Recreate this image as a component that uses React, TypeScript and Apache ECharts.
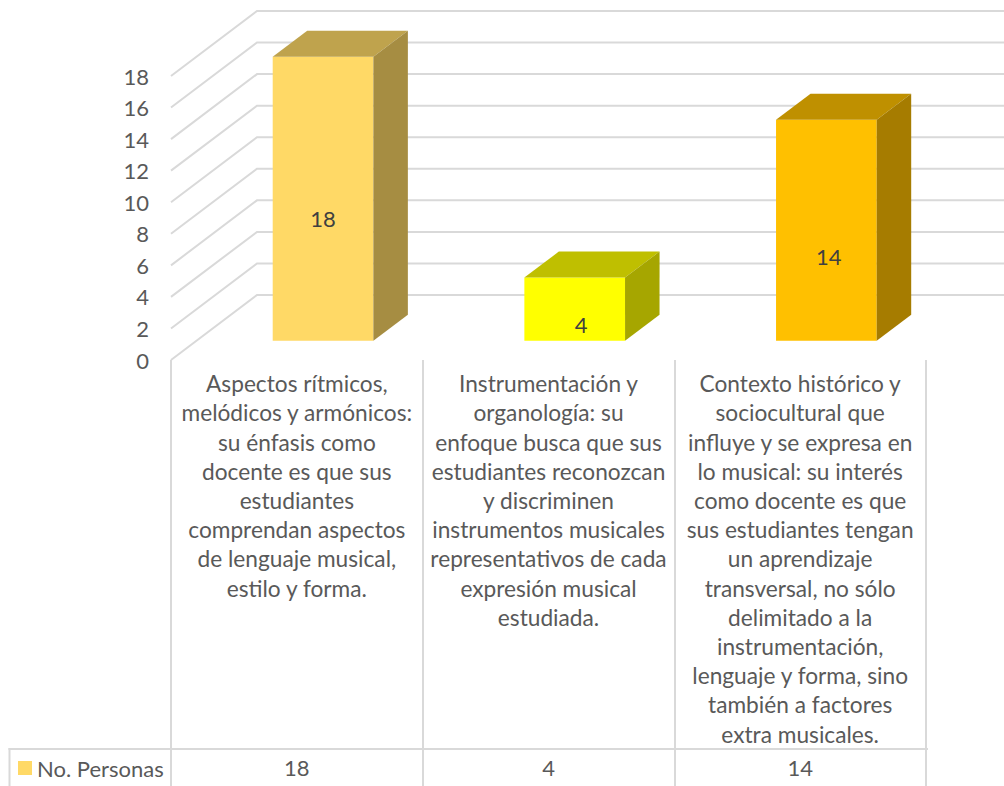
import React, { useEffect, useRef } from "react";
import * as echarts from "echarts";

const seriesName = "No. Personas";
const categories = [
  "Aspectos rítmicos,\nmelódicos y armónicos:\nsu énfasis como\ndocente es que sus\nestudiantes\ncomprendan aspectos\nde lenguaje musical,\nestilo y forma.",
  "Instrumentación y\norganología: su\nenfoque busca que sus\nestudiantes reconozcan\ny discriminen\ninstrumentos musicales\nrepresentativos de cada\nexpresión musical\nestudiada.",
  "Contexto histórico y\nsociocultural que\ninfluye y se expresa en\nlo musical: su interés\ncomo docente es que\nsus estudiantes tengan\nun aprendizaje\ntransversal, no sólo\ndelimitado a la\ninstrumentación,\nlenguaje y forma, sino\ntambién a factores\nextra musicales.",
];
const values = [18, 4, 14];
const tableLabels = ["18", "4", "14"];
const wallTicks = [0, 2, 4, 6, 8, 10, 12, 14, 16, 18];

const frontColors = ["#FFD966", "#FFFF00", "#FFC000"];
const topColors = ["#BFA34D", "#BFBF00", "#BF9000"];
const sideColors = ["#A68D42", "#A6A600", "#A67C00"];
const labelShift = [[0, 20], [6.5, 15], [2.5, 26]];

const FONT = "Lato, 'Open Sans', sans-serif";
const TEXT = "#595959";
const LINE = "#D9D9D9";
const FONT_SIZE = 22;
const CATEGORY_FONT_SIZE = 22.7;

export default function App() {
  const ref = useRef<HTMLDivElement>(null);
  useEffect(() => {
    const chart = echarts.init(ref.current!, null, { renderer: "svg" });
    chart.setOption({
      animation: false,
      backgroundColor: "#FFFFFF",
      grid: { left: 171, top: 76, width: 755, height: 284, containLabel: false },
      legend: {
        data: [seriesName],
        left: 13,
        top: 752,
        padding: 5,
        icon: "rect",
        itemWidth: 14,
        itemHeight: 14,
        textStyle: { color: TEXT, fontFamily: FONT, fontSize: FONT_SIZE },
        selectedMode: false,
      },
      xAxis: [
        {
          type: "category",
          data: categories,
          position: "bottom",
          axisLine: { show: false },
          axisTick: {
            show: true,
            length: 426,
            alignWithLabel: false,
            lineStyle: { color: LINE, width: 2 },
          },
          axisLabel: {
            interval: 0,
            margin: 9,
            color: TEXT,
            fontFamily: FONT,
            fontSize: CATEGORY_FONT_SIZE,
            lineHeight: 29.2,
            align: "center",
            verticalAlign: "top",
            hideOverlap: false,
          },
        },
        {
          type: "category",
          data: tableLabels,
          position: "bottom",
          offset: 392,
          axisLine: { show: false },
          axisTick: { show: false },
          axisLabel: {
            interval: 0,
            margin: 0,
            color: TEXT,
            fontFamily: FONT,
            fontSize: FONT_SIZE,
            lineHeight: 30,
            verticalAlign: "top",
          },
        },
      ],
      yAxis: {
        type: "value",
        min: 0,
        max: 18,
        interval: 2,
        axisLine: { show: false },
        axisTick: { show: false },
        splitLine: { show: false },
        axisLabel: { margin: 22, color: TEXT, fontFamily: FONT, fontSize: FONT_SIZE },
      },
      graphic: [
        { type: "line", silent: true, shape: { x1: 8.5, y1: 749, x2: 928, y2: 749 }, style: { stroke: LINE, lineWidth: 2 } },
        { type: "line", silent: true, shape: { x1: 9.5, y1: 748, x2: 9.5, y2: 786 }, style: { stroke: LINE, lineWidth: 2 } },
      ],
      series: [
        {
          type: "custom",
          name: "walls",
          silent: true,
          clip: false,
          z: 1,
          data: wallTicks.map((t) => [0, t]),
          encode: { x: 0, y: 1 },
          renderItem: (params: any, api: any) => {
            const y = api.coord([0, api.value(1)])[1];
            const x0 = params.coordSys.x;
            const x1 = x0 + 86;
            const y1 = y - 65;
            return {
              type: "polyline",
              shape: { points: [[x0, y], [x1, y1], [1004, y1]] },
              style: { stroke: LINE, lineWidth: 2, fill: "none" },
            };
          },
        },
        {
          type: "custom",
          name: seriesName,
          silent: true,
          clip: false,
          z: 2,
          itemStyle: { color: frontColors[0] },
          data: values.map((v, i) => [i, v]),
          encode: { x: 0, y: 1 },
          renderItem: (_: any, api: any) => {
            const i = api.value(0);
            const v = api.value(1);
            const top = api.coord([i, v]);
            const base = api.coord([i, 0]);
            const w = api.size([1, 0])[0] * 0.4;
            const ox = 26.2;
            const oy = -19.3;
            const dx = 34.5;
            const dy = -26;
            const l = top[0] + ox - w / 2;
            const r = l + w;
            const t = top[1] + oy;
            const b = base[1] + oy;
            return {
              type: "group",
              children: [
                { type: "polygon", shape: { points: [[l, b], [r, b], [r, t], [l, t]] }, style: { fill: frontColors[i] } },
                { type: "polygon", shape: { points: [[l, t], [r, t], [r + dx, t + dy], [l + dx, t + dy]] }, style: { fill: topColors[i] } },
                { type: "polygon", shape: { points: [[r, t], [r + dx, t + dy], [r + dx, b + dy], [r, b]] }, style: { fill: sideColors[i] } },
                {
                  type: "text",
                  style: {
                    text: String(v),
                    x: (l + r) / 2 + labelShift[i][0],
                    y: (t + b) / 2 + labelShift[i][1],
                    fill: "#404040",
                    font: `${FONT_SIZE}px ${FONT}`,
                    align: "center",
                    verticalAlign: "middle",
                  },
                },
              ],
            };
          },
        },
      ],
    });
    return () => chart.dispose();
  }, []);
  return <div ref={ref} style={{ position: "absolute", left: 0, top: 0, width: 1004, height: 786 }} />;
}
